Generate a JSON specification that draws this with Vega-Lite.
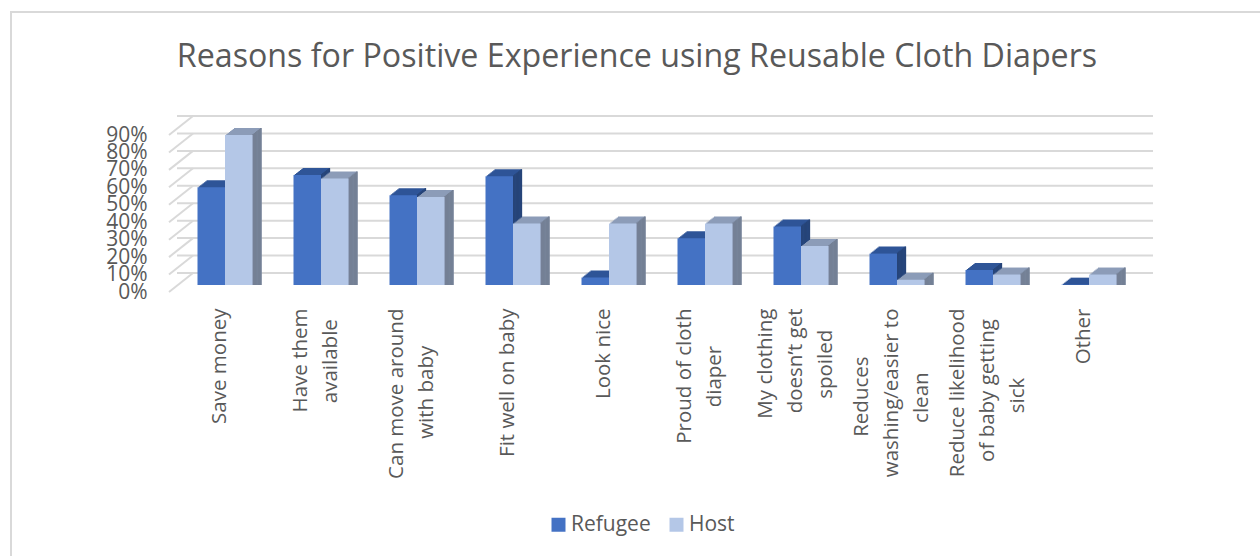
{"$schema":"https://vega.github.io/schema/vega-lite/v6.json","autosize":"none","width":960,"height":157,"padding":{"left":177,"top":128,"right":123,"bottom":271},"background":"white",
"title":{"text":"Reasons for Positive Experience using Reusable Cloth Diapers","font":"Open Sans","fontSize":32.2,"fontWeight":"normal","color":"#595959","anchor":"middle","frame":"group","dx":-20,"offset":-63},
"config":{"view":{"stroke":null},"font":"Open Sans"},
"datasets":{"rows":[
{"reason":"Save money","group":"Refugee","share":0.56},{"reason":"Save money","group":"Host","share":0.86},
{"reason":"Have them available","group":"Refugee","share":0.63},{"reason":"Have them available","group":"Host","share":0.61},
{"reason":"Can move around with baby","group":"Refugee","share":0.515},{"reason":"Can move around with baby","group":"Host","share":0.505},
{"reason":"Fit well on baby","group":"Refugee","share":0.623},{"reason":"Fit well on baby","group":"Host","share":0.353},
{"reason":"Look nice","group":"Refugee","share":0.043},{"reason":"Look nice","group":"Host","share":0.353},
{"reason":"Proud of cloth diaper","group":"Refugee","share":0.268},{"reason":"Proud of cloth diaper","group":"Host","share":0.353},
{"reason":"My clothing doesn’t get spoiled","group":"Refugee","share":0.335},{"reason":"My clothing doesn’t get spoiled","group":"Host","share":0.224},
{"reason":"Reduces washing/easier to clean","group":"Refugee","share":0.18},{"reason":"Reduces washing/easier to clean","group":"Host","share":0.03},
{"reason":"Reduce likelihood of baby getting sick","group":"Refugee","share":0.086},{"reason":"Reduce likelihood of baby getting sick","group":"Host","share":0.06},
{"reason":"Other","group":"Refugee","share":0.002},{"reason":"Other","group":"Host","share":0.06}],
"ticks":[{"tick":0},{"tick":0.1},{"tick":0.2},{"tick":0.3},{"tick":0.4},{"tick":0.5},{"tick":0.6},{"tick":0.7},{"tick":0.8},{"tick":0.9}]},
"layer":[
{"data":{"values":[{"frame":"chart"}]},"mark":{"type":"rect","fill":null,"stroke":"#d9d9d9","strokeWidth":2,"clip":false},"encoding":{"x":{"value":-166},"x2":{"value":1100},"y":{"value":-116},"y2":{"value":450}}},
{"data":{"name":"ticks"},"mark":{"type":"rule","color":"#d9d9d9","strokeWidth":2,"xOffset":16,"yOffset":-12},"encoding":{"y":{"field":"tick","type":"quantitative","scale":{"domain":[0,0.9]},"axis":{"values":[0,0.1,0.2,0.3,0.4,0.5,0.6,0.7,0.8,0.9],"format":".0%","title":null,"domain":false,"ticks":false,"grid":false,"labelFontSize":21,"labelColor":"#595959","labelFont":"Open Sans","labelPadding":30,"labelOffset":7,"labelOverlap":false}}}},
{"data":{"name":"ticks"},"mark":{"type":"rule","color":"#d9d9d9","strokeWidth":2,"yOffset":7,"y2Offset":-12},"encoding":{"x":{"value":-8},"x2":{"value":16},"y":{"field":"tick","type":"quantitative","axis":{"values":[0,0.1,0.2,0.3,0.4,0.5,0.6,0.7,0.8,0.9],"format":".0%","title":null,"domain":false,"ticks":false,"grid":false,"labelFontSize":21,"labelColor":"#595959","labelFont":"Open Sans","labelPadding":30,"labelOffset":7,"labelOverlap":false}},"y2":{"field":"tick"}}},
{"data":{"name":"rows"},
"encoding":{
"x":{"field":"reason","type":"nominal","sort":null,"scale":{"paddingInner":0.427,"paddingOuter":0.2135},"axis":{"title":null,"domain":false,"ticks":false,"grid":false,"labelAngle":270,"labelAlign":"right","labelBaseline":"middle","labelPadding":23,"labelOffset":-35,"labelFontSize":20.5,"labelColor":"#595959","labelFont":"Open Sans","labelLineHeight":15,"labelLimit":400,"labelOverlap":false,"labelFlush":false,
"labelExpr":"{'Save money':['\u00a0\u200b','\u00a0\u200b','Save money'],'Have them available':['\u00a0\u200b','Have them','\u00a0\u200b','available\u00a0\u00a0\u200b'],'Can move around with baby':['\u00a0\u200b','Can move around','\u00a0\u200b','with baby\u00a0\u00a0\u00a0\u00a0\u00a0\u00a0\u00a0\u200b'],'Fit well on baby':['\u00a0\u200b','\u00a0\u200b','Fit well on baby'],'Look nice':['\u00a0\u200b','\u00a0\u200b','Look nice'],'Proud of cloth diaper':['\u00a0\u200b','Proud of cloth','\u00a0\u200b','diaper\u00a0\u00a0\u00a0\u00a0\u00a0\u00a0\u00a0\u200b'],'My clothing doesn’t get spoiled':['My clothing','\u00a0\u200b','doesn’t get','\u00a0\u200b','spoiled\u00a0\u00a0\u00a0\u00a0\u200b'],'Reduces washing/easier to clean':['Reduces\u00a0\u00a0\u00a0\u00a0\u00a0\u00a0\u00a0\u00a0\u00a0\u200b','\u00a0\u200b','washing/easier to','\u00a0\u200b','clean\u00a0\u00a0\u00a0\u00a0\u00a0\u00a0\u00a0\u00a0\u00a0\u00a0\u00a0\u00a0\u200b'],'Reduce likelihood of baby getting sick':['Reduce likelihood','\u00a0\u200b','of baby getting\u00a0\u00a0\u200b','\u00a0\u200b','sick\u00a0\u00a0\u00a0\u00a0\u00a0\u00a0\u00a0\u00a0\u00a0\u00a0\u00a0\u00a0\u00a0\u200b'],'Other':['\u00a0\u200b','\u00a0\u200b','Other']}[datum.label]"}},
"y":{"field":"share","type":"quantitative","stack":null,"axis":{"values":[0,0.1,0.2,0.3,0.4,0.5,0.6,0.7,0.8,0.9],"format":".0%","title":null,"domain":false,"ticks":false,"grid":false,"labelFontSize":21,"labelColor":"#595959","labelFont":"Open Sans","labelPadding":30,"labelOffset":7,"labelOverlap":false}}},
"layer":[
{"transform":[{"filter":"datum.group==='Refugee'"}],"mark":{"type":"bar","color":"#2f5597","width":27.5,"xOffset":-4.75,"yOffset":-7}},
{"transform":[{"filter":"datum.group==='Refugee'"}],"mark":{"type":"bar","color":"#2f5597","width":27.5,"xOffset":-6.05,"yOffset":-6}},
{"transform":[{"filter":"datum.group==='Refugee'"}],"mark":{"type":"bar","color":"#2f5597","width":27.5,"xOffset":-7.35,"yOffset":-5}},
{"transform":[{"filter":"datum.group==='Refugee'"}],"mark":{"type":"bar","color":"#2f5597","width":27.5,"xOffset":-8.65,"yOffset":-4}},
{"transform":[{"filter":"datum.group==='Refugee'"}],"mark":{"type":"bar","color":"#2f5597","width":27.5,"xOffset":-9.85,"yOffset":-3}},
{"transform":[{"filter":"datum.group==='Refugee'"}],"mark":{"type":"bar","color":"#2f5597","width":27.5,"xOffset":-11.15,"yOffset":-2}},
{"transform":[{"filter":"datum.group==='Refugee'"}],"mark":{"type":"bar","color":"#2f5597","width":27.5,"xOffset":-12.45,"yOffset":-1}},
{"transform":[{"filter":"datum.group==='Refugee'"}],"mark":{"type":"bar","color":"#264478","width":1.6,"xOffset":8.35,"yOffset":-7}},
{"transform":[{"filter":"datum.group==='Refugee'"}],"mark":{"type":"bar","color":"#264478","width":1.6,"xOffset":7.05,"yOffset":-6}},
{"transform":[{"filter":"datum.group==='Refugee'"}],"mark":{"type":"bar","color":"#264478","width":1.6,"xOffset":5.75,"yOffset":-5}},
{"transform":[{"filter":"datum.group==='Refugee'"}],"mark":{"type":"bar","color":"#264478","width":1.6,"xOffset":4.45,"yOffset":-4}},
{"transform":[{"filter":"datum.group==='Refugee'"}],"mark":{"type":"bar","color":"#264478","width":1.6,"xOffset":3.25,"yOffset":-3}},
{"transform":[{"filter":"datum.group==='Refugee'"}],"mark":{"type":"bar","color":"#264478","width":1.6,"xOffset":1.95,"yOffset":-2}},
{"transform":[{"filter":"datum.group==='Refugee'"}],"mark":{"type":"bar","color":"#264478","width":1.6,"xOffset":0.65,"yOffset":-1}},
{"transform":[{"filter":"datum.group==='Refugee'"}],"mark":{"type":"bar","width":27.5,"xOffset":-13.75},"encoding":{"color":{"field":"group","type":"nominal","scale":{"domain":["Refugee","Host"],"range":["#4472c4","#b4c7e7"]},"legend":{"title":null,"orient":"none","legendX":371,"legendY":386,"direction":"horizontal","symbolType":"square","symbolSize":196,"symbolStrokeWidth":0,"labelFontSize":21,"labelColor":"#595959","labelFont":"Open Sans","labelLimit":200,"labelOffset":2,"columnPadding":15,"symbolOpacity":1}}}},
{"transform":[{"filter":"datum.group==='Host'"}],"mark":{"type":"bar","color":"#8c9cb8","width":27.5,"xOffset":22.75,"yOffset":-7}},
{"transform":[{"filter":"datum.group==='Host'"}],"mark":{"type":"bar","color":"#8c9cb8","width":27.5,"xOffset":21.45,"yOffset":-6}},
{"transform":[{"filter":"datum.group==='Host'"}],"mark":{"type":"bar","color":"#8c9cb8","width":27.5,"xOffset":20.15,"yOffset":-5}},
{"transform":[{"filter":"datum.group==='Host'"}],"mark":{"type":"bar","color":"#8c9cb8","width":27.5,"xOffset":18.85,"yOffset":-4}},
{"transform":[{"filter":"datum.group==='Host'"}],"mark":{"type":"bar","color":"#8c9cb8","width":27.5,"xOffset":17.65,"yOffset":-3}},
{"transform":[{"filter":"datum.group==='Host'"}],"mark":{"type":"bar","color":"#8c9cb8","width":27.5,"xOffset":16.35,"yOffset":-2}},
{"transform":[{"filter":"datum.group==='Host'"}],"mark":{"type":"bar","color":"#8c9cb8","width":27.5,"xOffset":15.05,"yOffset":-1}},
{"transform":[{"filter":"datum.group==='Host'"}],"mark":{"type":"bar","color":"#748095","width":1.6,"xOffset":35.85,"yOffset":-7}},
{"transform":[{"filter":"datum.group==='Host'"}],"mark":{"type":"bar","color":"#748095","width":1.6,"xOffset":34.55,"yOffset":-6}},
{"transform":[{"filter":"datum.group==='Host'"}],"mark":{"type":"bar","color":"#748095","width":1.6,"xOffset":33.25,"yOffset":-5}},
{"transform":[{"filter":"datum.group==='Host'"}],"mark":{"type":"bar","color":"#748095","width":1.6,"xOffset":31.95,"yOffset":-4}},
{"transform":[{"filter":"datum.group==='Host'"}],"mark":{"type":"bar","color":"#748095","width":1.6,"xOffset":30.75,"yOffset":-3}},
{"transform":[{"filter":"datum.group==='Host'"}],"mark":{"type":"bar","color":"#748095","width":1.6,"xOffset":29.45,"yOffset":-2}},
{"transform":[{"filter":"datum.group==='Host'"}],"mark":{"type":"bar","color":"#748095","width":1.6,"xOffset":28.15,"yOffset":-1}},
{"transform":[{"filter":"datum.group==='Host'"}],"mark":{"type":"bar","width":27.5,"xOffset":13.75},"encoding":{"color":{"field":"group","type":"nominal","scale":{"domain":["Refugee","Host"],"range":["#4472c4","#b4c7e7"]},"legend":{"title":null,"orient":"none","legendX":371,"legendY":386,"direction":"horizontal","symbolType":"square","symbolSize":196,"symbolStrokeWidth":0,"labelFontSize":21,"labelColor":"#595959","labelFont":"Open Sans","labelLimit":200,"labelOffset":2,"columnPadding":15,"symbolOpacity":1}}}}
]}
]}
